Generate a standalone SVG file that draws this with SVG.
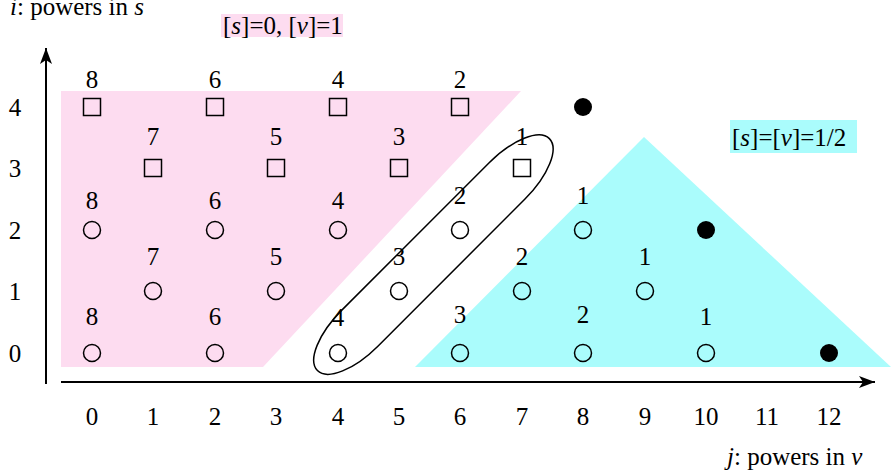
<svg xmlns="http://www.w3.org/2000/svg" width="891" height="475" viewBox="0 0 891 475">
<style>
text{font-family:"Times New Roman","Liberation Serif","Noto Serif","DejaVu Serif",Times,serif;font-size:25px;fill:#000}
.n{text-anchor:middle}
.sq{fill:none;stroke:#000;stroke-width:1.5}
.ci{fill:none;stroke:#000;stroke-width:1.5}
.dot{fill:#000}
.ax{stroke:#000;stroke-width:2;fill:none}
</style>
<defs>
<marker id="arr" markerUnits="userSpaceOnUse" markerWidth="18" markerHeight="14" refX="16" refY="7" orient="auto">
<path d="M0,1 L16,7 L0,13 L4,7 z" fill="#000"/>
</marker>
</defs>
<g id="regions">
<polygon id="pink" points="61,91 521,91 263,367 61,367" fill="#fddcf0"/>
<polygon id="cyan" points="415,367 644,137 891,367" fill="#aafcfc"/>
</g>
<g id="connectors">
<line class="ax" x1="46" y1="384" x2="46" y2="48" marker-end="url(#arr)"/>
<line class="ax" x1="61" y1="382" x2="875" y2="382" marker-end="url(#arr)"/>
</g>
<g id="axis-labels">
<text x="10" y="15"><tspan font-style="italic">i</tspan>: powers in <tspan font-style="italic">s</tspan></text>
<text x="727" y="465"><tspan font-style="italic">j</tspan>: powers in <tspan font-style="italic">v</tspan></text>
<text class="n" x="15" y="116">4</text>
<text class="n" x="15" y="177">3</text>
<text class="n" x="15" y="239">2</text>
<text class="n" x="15" y="300">1</text>
<text class="n" x="15" y="362">0</text>
<text class="n" x="92" y="425">0</text>
<text class="n" x="153" y="425">1</text>
<text class="n" x="215" y="425">2</text>
<text class="n" x="276" y="425">3</text>
<text class="n" x="338" y="425">4</text>
<text class="n" x="399" y="425">5</text>
<text class="n" x="460" y="425">6</text>
<text class="n" x="522" y="425">7</text>
<text class="n" x="583" y="425">8</text>
<text class="n" x="645" y="425">9</text>
<text class="n" x="706" y="425">10</text>
<text class="n" x="767" y="425">11</text>
<text class="n" x="829" y="425">12</text>
</g>
<g id="label-pink">
<rect x="221" y="14" width="122" height="23" fill="#fddcf0"/>
<text x="223" y="34">[<tspan font-style="italic">s</tspan>]=0, [<tspan font-style="italic">v</tspan>]=1</text>
</g>
<g id="label-cyan">
<rect x="730" y="120" width="127" height="33" fill="#aafcfc"/>
<text x="732" y="146">[<tspan font-style="italic">s</tspan>]=[<tspan font-style="italic">v</tspan>]=1/2</text>
</g>
<g id="row4">
<g id="n-0-4"><rect class="sq" x="83.5" y="98.5" width="17" height="17"/><text class="n" x="92" y="88">8</text></g>
<g id="n-2-4"><rect class="sq" x="206.5" y="98.5" width="17" height="17"/><text class="n" x="215" y="88">6</text></g>
<g id="n-4-4"><rect class="sq" x="329.5" y="98.5" width="17" height="17"/><text class="n" x="338" y="88">4</text></g>
<g id="n-6-4"><rect class="sq" x="451.5" y="98.5" width="17" height="17"/><text class="n" x="460" y="88">2</text></g>
<g id="n-8-4"><circle class="dot" cx="583" cy="107" r="9"/></g>
</g>
<g id="row3">
<g id="n-1-3"><rect class="sq" x="144.5" y="159.5" width="17" height="17"/><text class="n" x="153" y="145">7</text></g>
<g id="n-3-3"><rect class="sq" x="267.5" y="159.5" width="17" height="17"/><text class="n" x="276" y="145">5</text></g>
<g id="n-5-3"><rect class="sq" x="390.5" y="159.5" width="17" height="17"/><text class="n" x="399" y="145">3</text></g>
<g id="n-7-3"><rect class="sq" x="513.5" y="159.5" width="17" height="17"/><text class="n" x="522" y="145">1</text></g>
</g>
<g id="row2">
<g id="n-0-2"><circle class="ci" cx="92" cy="230" r="8.5"/><text class="n" x="92" y="209">8</text></g>
<g id="n-2-2"><circle class="ci" cx="215" cy="230" r="8.5"/><text class="n" x="215" y="209">6</text></g>
<g id="n-4-2"><circle class="ci" cx="338" cy="230" r="8.5"/><text class="n" x="338" y="209">4</text></g>
<g id="n-6-2"><circle class="ci" cx="460" cy="230" r="8.5"/><text class="n" x="460" y="204">2</text></g>
<g id="n-8-2"><circle class="ci" cx="583" cy="230" r="8.5"/><text class="n" x="583" y="204">1</text></g>
<g id="n-10-2"><circle class="dot" cx="706" cy="230" r="9"/></g>
</g>
<g id="row1">
<g id="n-1-1"><circle class="ci" cx="153" cy="291" r="8.5"/><text class="n" x="153" y="265">7</text></g>
<g id="n-3-1"><circle class="ci" cx="276" cy="291" r="8.5"/><text class="n" x="276" y="265">5</text></g>
<g id="n-5-1"><circle class="ci" cx="399" cy="291" r="8.5"/><text class="n" x="399" y="265">3</text></g>
<g id="n-7-1"><circle class="ci" cx="522" cy="291" r="8.5"/><text class="n" x="522" y="265">2</text></g>
<g id="n-9-1"><circle class="ci" cx="645" cy="291" r="8.5"/><text class="n" x="645" y="265">1</text></g>
</g>
<g id="row0">
<g id="n-0-0"><circle class="ci" cx="92" cy="353" r="8.5"/><text class="n" x="92" y="325">8</text></g>
<g id="n-2-0"><circle class="ci" cx="215" cy="353" r="8.5"/><text class="n" x="215" y="325">6</text></g>
<g id="n-4-0"><circle class="ci" cx="338" cy="353" r="8.5"/><text class="n" x="338" y="326">4</text></g>
<g id="n-6-0"><circle class="ci" cx="460" cy="353" r="8.5"/><text class="n" x="460" y="323">3</text></g>
<g id="n-8-0"><circle class="ci" cx="583" cy="353" r="8.5"/><text class="n" x="583" y="323">2</text></g>
<g id="n-10-0"><circle class="ci" cx="706" cy="353" r="8.5"/><text class="n" x="706" y="325">1</text></g>
<g id="n-12-0"><circle class="dot" cx="829" cy="353" r="9"/></g>
</g>
<g id="diagonal-group">
<path d="M-104,-25.5 L104,-25.5 A60,25.5 0 0 1 104,25.5 L-104,25.5 A60,25.5 0 0 1 -104,-25.5 Z" transform="translate(433.4 254.6) rotate(-45)" fill="none" stroke="#000" stroke-width="1.5"/>
</g>
</svg>
